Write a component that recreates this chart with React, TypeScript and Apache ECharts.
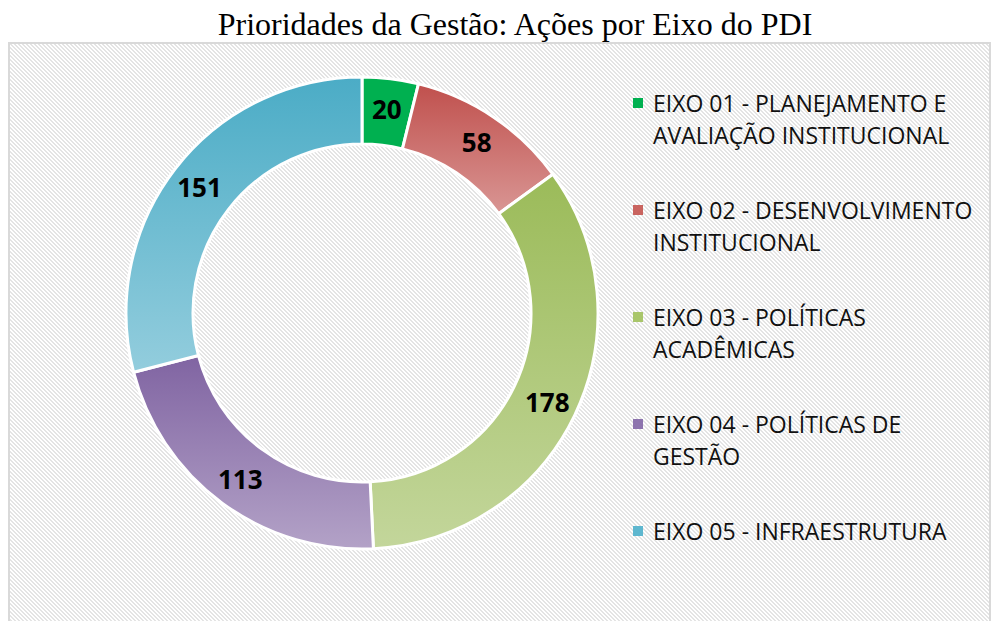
import React, { useEffect, useRef } from "react";
import * as echarts from "echarts";

const titleText = "Prioridades da Gestão: Ações por Eixo do PDI";
const categories = [
  "EIXO 01 - PLANEJAMENTO E AVALIAÇÃO INSTITUCIONAL",
  "EIXO 02 - DESENVOLVIMENTO INSTITUCIONAL",
  "EIXO 03 - POLÍTICAS ACADÊMICAS",
  "EIXO 04 - POLÍTICAS DE GESTÃO",
  "EIXO 05 - INFRAESTRUTURA",
];
const legendLines = [
  ["EIXO 01 - PLANEJAMENTO E", "AVALIAÇÃO INSTITUCIONAL"],
  ["EIXO 02 - DESENVOLVIMENTO", "INSTITUCIONAL"],
  ["EIXO 03 - POLÍTICAS", "ACADÊMICAS"],
  ["EIXO 04 - POLÍTICAS DE", "GESTÃO"],
  ["EIXO 05 - INFRAESTRUTURA"],
];
const values = [20, 58, 178, 113, 151];
const topColors = ["#00b050", "#c0504d", "#9bbb59", "#8064a2", "#4bacc6"];
const bottomColors = ["#00b050", "#d99694", "#c3d69b", "#b3a2c7", "#93cddd"];
const markerColors = ["#00b050", "#c9645f", "#a9c66b", "#8d74ae", "#5eb7cf"];

const patternSvg =
  "data:image/svg+xml;utf8," +
  encodeURIComponent(
    "<svg xmlns='http://www.w3.org/2000/svg' width='4' height='4' shape-rendering='crispEdges'>" +
      "<rect width='4' height='4' fill='#ffffff'/>" +
      "<rect x='0' y='0' width='2' height='1' fill='#e4e4e4'/>" +
      "<rect x='1' y='1' width='2' height='1' fill='#e4e4e4'/>" +
      "<rect x='2' y='2' width='2' height='1' fill='#e4e4e4'/>" +
      "<rect x='3' y='3' width='1' height='1' fill='#e4e4e4'/>" +
      "<rect x='0' y='3' width='1' height='1' fill='#e4e4e4'/>" +
      "</svg>"
  );

export default function App() {
  const ref = useRef<HTMLDivElement>(null);
  useEffect(() => {
    if (!ref.current) return;
    const chart = echarts.init(ref.current, null, { renderer: "svg" });
    const data = categories.map((name, i) => ({
      name,
      value: values[i],
      itemStyle: {
        color: new echarts.graphic.LinearGradient(0, 0, 0, 1, [
          { offset: 0, color: topColors[i] },
          { offset: 1, color: bottomColors[i] },
        ]),
      },
    }));
    chart.setOption({
      animation: false,
      title: {
        text: titleText,
        left: 510,
        top: 3,
        textAlign: "center",
        textStyle: {
          fontFamily: "Liberation Serif",
          fontSize: 32,
          fontWeight: "normal",
          color: "#000",
        },
      },
      legend: {
        orient: "vertical",
        left: 628,
        top: 50,
        itemGap: 11,
        itemWidth: 10,
        itemHeight: 10,
        icon: "rect",
        itemStyle: { borderWidth: 0 },
        data: categories.map((name, i) => ({ name, itemStyle: { color: markerColors[i], borderWidth: 0 } })),
        formatter: (name: string) => {
          const l = legendLines[categories.indexOf(name)];
          return ["", l[0], l[1] ?? ""].join("\n");
        },
        textStyle: {
          fontFamily: "Open Sans",
          fontSize: 23,
          lineHeight: 32,
          color: "#111",
          padding: [0, 0, 0, 5],
        },
      },
      series: [
        {
          type: "pie",
          center: [362, 313],
          radius: [169, 236],
          startAngle: 90,
          clockwise: true,
          avoidLabelOverlap: false,
          itemStyle: { borderColor: "#ffffff", borderWidth: 3 },
          label: {
            show: true,
            position: "inside",
            formatter: "{c}",
            fontFamily: "Open Sans",
            fontWeight: "bold",
            fontSize: 26,
            color: "#000",
          },
          labelLine: { show: false },
          emphasis: { disabled: true },
          data,
        },
      ],
    });
    return () => chart.dispose();
  }, []);
  return (
    <div style={{ position: "fixed", left: 0, top: 0, width: 995, height: 621, background: "#fff" }}>
      <div
        style={{
          position: "absolute",
          left: 8,
          top: 42,
          width: 979,
          height: 600,
          border: "2px solid #d9d9d9",
          backgroundImage: `url("${patternSvg}")`,
          backgroundRepeat: "repeat",
        }}
      />
      <div ref={ref} style={{ position: "absolute", left: 0, top: 0, width: 995, height: 621 }} />
    </div>
  );
}
